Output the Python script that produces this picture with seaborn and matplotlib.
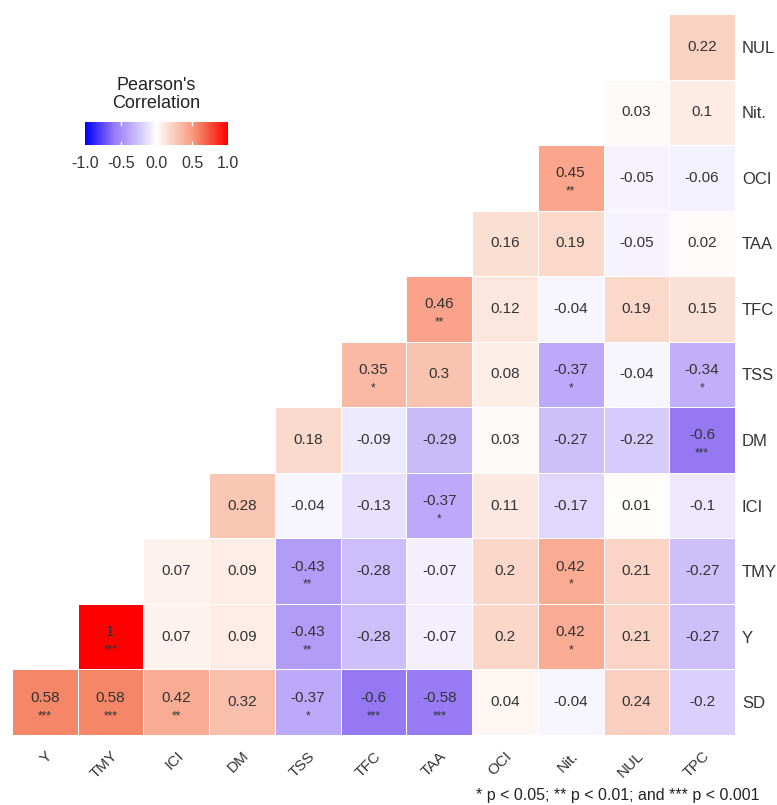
import numpy as np
import pandas as pd
import matplotlib
matplotlib.use('Agg')
import matplotlib.pyplot as plt
from matplotlib.colors import LinearSegmentedColormap
import seaborn as sns

# variable order as drawn
cols = ['Y', 'TMY', 'ICI', 'DM', 'TSS', 'TFC', 'TAA', 'OCI', 'Nit.', 'NUL', 'TPC']
rows = ['NUL', 'Nit.', 'OCI', 'TAA', 'TFC', 'TSS', 'DM', 'ICI', 'TMY', 'Y', 'SD']

nan = np.nan
r_NUL = [nan, nan, nan, nan, nan, nan, nan, nan, nan, nan, 0.22]
r_Nit = [nan, nan, nan, nan, nan, nan, nan, nan, nan, 0.03, 0.1]
r_OCI = [nan, nan, nan, nan, nan, nan, nan, nan, 0.45, -0.05, -0.06]
r_TAA = [nan, nan, nan, nan, nan, nan, nan, 0.16, 0.19, -0.05, 0.02]
r_TFC = [nan, nan, nan, nan, nan, nan, 0.46, 0.12, -0.04, 0.19, 0.15]
r_TSS = [nan, nan, nan, nan, nan, 0.35, 0.3, 0.08, -0.37, -0.04, -0.34]
r_DM = [nan, nan, nan, nan, 0.18, -0.09, -0.29, 0.03, -0.27, -0.22, -0.6]
r_ICI = [nan, nan, nan, 0.28, -0.04, -0.13, -0.37, 0.11, -0.17, 0.01, -0.1]
r_TMY = [nan, nan, 0.07, 0.09, -0.43, -0.28, -0.07, 0.2, 0.42, 0.21, -0.27]
r_Y = [nan, 1, 0.07, 0.09, -0.43, -0.28, -0.07, 0.2, 0.42, 0.21, -0.27]
r_SD = [0.58, 0.58, 0.42, 0.32, -0.37, -0.6, -0.58, 0.04, -0.04, 0.24, -0.2]

s_NUL = [''] * 11
s_Nit = [''] * 11
s_OCI = [''] * 8 + ['**', '', '']
s_TAA = [''] * 11
s_TFC = [''] * 6 + ['**', '', '', '', '']
s_TSS = [''] * 5 + ['*', '', '', '*', '', '*']
s_DM = [''] * 10 + ['***']
s_ICI = [''] * 6 + ['*', '', '', '', '']
s_TMY = [''] * 4 + ['**', '', '', '', '*', '', '']
s_Y = ['', '***', '', '', '**', '', '', '', '*', '', '']
s_SD = ['***', '***', '**', '', '*', '***', '***', '', '', '', '']

corr = pd.DataFrame([r_NUL, r_Nit, r_OCI, r_TAA, r_TFC, r_TSS, r_DM, r_ICI, r_TMY, r_Y, r_SD],
                    index=rows, columns=cols)
stars = [s_NUL, s_Nit, s_OCI, s_TAA, s_TFC, s_TSS, s_DM, s_ICI, s_TMY, s_Y, s_SD]

plt.rcParams['font.family'] = ['Liberation Sans', 'DejaVu Sans']

cmap = LinearSegmentedColormap.from_list('pc', [
    (0.0, (0/255, 0/255, 255/255)),
    (0.2, (150/255, 120/255, 245/255)),
    (0.35, (200/255, 185/255, 250/255)),
    (0.5, (1, 1, 1)),
    (0.6, (250/255, 215/255, 200/255)),
    (0.725, (250/255, 165/255, 140/255)),
    (0.79, (245/255, 135/255, 105/255)),
    (1.0, (255/255, 0, 0)),
])

fig = plt.figure(figsize=(7.77, 8.05), dpi=100)
ax = fig.add_axes([12/777, 1 - 735/805, 723/777, 721/805])

sns.heatmap(corr, ax=ax, cmap=cmap, vmin=-1, vmax=1, cbar=False,
            linewidths=0.7, linecolor='white', square=False)

for i in range(len(rows)):
    for j in range(len(cols)):
        v = corr.iloc[i, j]
        if np.isnan(v):
            continue
        txt = f'{v:g}'
        s = stars[i][j]
        if s:
            ax.text(j + 0.5, i + 0.43, txt, ha='center', va='center', fontsize=11, color='#333333')
            ax.text(j + 0.5, i + 0.71, s, ha='center', va='center', fontsize=8.5, color='#333333')
        else:
            ax.text(j + 0.5, i + 0.5, txt, ha='center', va='center', fontsize=11, color='#333333')

ax.yaxis.tick_right()
ax.set_yticklabels(rows, rotation=0, fontsize=12, color='#333333')
ax.set_xticklabels(cols, rotation=45, ha='right', rotation_mode='anchor', fontsize=11, color='#333333')
ax.tick_params(axis='y', length=0, pad=5)
ax.tick_params(axis='x', length=0, pad=10)
ax.set_xlabel('')
ax.set_ylabel('')
for sp in ax.spines.values():
    sp.set_visible(False)

# colour key
cax = fig.add_axes([85/777, 1 - 145/805, 143/777, 23/805])
grad = np.linspace(-1, 1, 256).reshape(1, -1)
cax.imshow(grad, aspect='auto', cmap=cmap, vmin=-1, vmax=1, extent=[-1, 1, 0, 1])
for t in [-0.5, 0, 0.5]:
    cax.plot([t, t], [0, 0.15], color='white', lw=1)
    cax.plot([t, t], [0.85, 1], color='white', lw=1)
cax.set_xticks([-1, -0.5, 0, 0.5, 1])
cax.set_xticklabels(['-1.0', '-0.5', '0.0', '0.5', '1.0'], fontsize=11.5, color='#333333')
cax.set_yticks([])
cax.tick_params(length=0, pad=8)
for sp in cax.spines.values():
    sp.set_visible(False)
cax.set_title("Pearson's\nCorrelation", fontsize=13, color='#222222', pad=10, linespacing=1.05)

fig.text(760/777, 1 - 795/805, '* p < 0.05; ** p < 0.01; and *** p < 0.001',
         ha='right', va='center', fontsize=11.5, color='#222222')

fig.savefig('out.png', dpi=100)
